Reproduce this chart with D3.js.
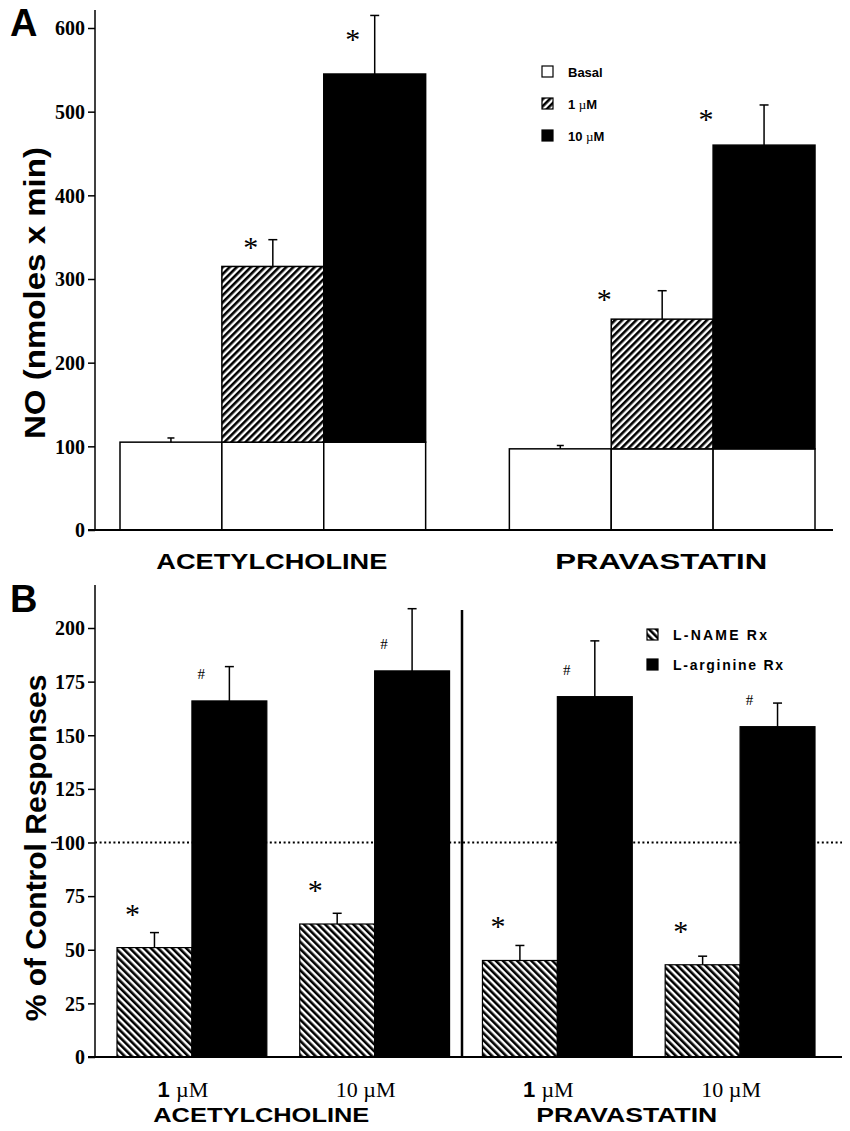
<!DOCTYPE html>
<html>
<head>
<meta charset="utf-8">
<title>NO release and control responses</title>
<script src="https://d3js.org/d3.v7.min.js"></script>
<style>
  body { margin: 0; background: #fff; }
  svg { display: block; }
  .sans { font-family: "Liberation Sans", Arial, sans-serif; font-weight: bold; }
  .serif { font-family: "Liberation Serif", "Times New Roman", serif; }
</style>
</head>
<body>
<svg id="chart" width="850" height="1131"></svg>
<script>
// ---- panel A data: NO (nmoles x min)
const drugs = ["ACETYLCHOLINE", "PRAVASTATIN"];
const doses = ["Basal", "1 µM", "10 µM"];
const achNO = [105, 315, 545];
const achNOTop = [110, 347, 615];     // mean + SEM
const pravNO = [97, 252, 460];
const pravNOTop = [101, 286, 508];
const ticksA = [0, 100, 200, 300, 400, 500, 600];

// ---- panel B data: % of control responses
const groupsB = ["ach1", "ach10", "prav1", "prav10"];
const doseLabelsB = ["1", "10", "1", "10"];
const treatments = ["L-NAME Rx", "L-arginine Rx"];
const lname = [51, 62, 45, 43];
const lnameTop = [58, 67, 52, 47];
const larg = [166, 180, 168, 154];
const largTop = [182, 209, 194, 165];
const ticksB = [0, 25, 50, 75, 100, 125, 150, 175, 200];

// asterisk offset from bar centre, per drug (panel A)
const starDxA = [-22, -58];

const svg = d3.select("#chart");
const defs = svg.append("defs");
const ink = "#000";

// hatch patterns
function hatch(id, angle) {
  const p = defs.append("pattern")
    .attr("id", id)
    .attr("patternUnits", "userSpaceOnUse")
    .attr("width", 5).attr("height", 5)
    .attr("patternTransform", "rotate(" + angle + ")");
  p.append("rect").attr("width", 5).attr("height", 5).attr("fill", "#fff");
  p.append("rect").attr("width", 2.6).attr("height", 5).attr("fill", "#000");
}
hatch("hatchA", 45);
hatch("hatchB", -45);

function styleAxis(ax) {
  ax.select(".domain").remove();
  ax.selectAll(".tick line").attr("stroke-width", 1.5);
  ax.selectAll(".tick text")
    .attr("font-family", "'Liberation Serif', 'Times New Roman', serif")
    .attr("font-weight", "bold")
    .attr("font-size", 20)
    .attr("dy", "0.34em");
}

// ======================= PANEL A =======================
const yA = d3.scaleLinear().domain([0, 600]).range([530, 28]);
const xA = d3.scaleBand().domain(drugs).range([120, 815]).paddingInner(0.215).paddingOuter(0);
const xDose = d3.scaleBand().domain(doses).range([0, xA.bandwidth()]);

const gA = svg.append("g");

const rowsA = drugs.map((d, i) => ({
  drug: d,
  vals: i === 0 ? achNO : pravNO,
  tops: i === 0 ? achNOTop : pravNOTop,
  starDx: starDxA[i]
}));

rowsA.forEach(r => {
  const basal = r.vals[0];
  doses.forEach((dose, j) => {
    const x0 = xA(r.drug) + xDose(dose);
    const w = xDose.bandwidth();
    // white basal part
    gA.append("rect")
      .attr("x", x0).attr("y", yA(basal))
      .attr("width", w).attr("height", yA(0) - yA(basal))
      .attr("fill", "#fff").attr("stroke", ink).attr("stroke-width", 1.5);
    if (j > 0) {
      gA.append("rect")
        .attr("x", x0).attr("y", yA(r.vals[j]))
        .attr("width", w).attr("height", yA(basal) - yA(r.vals[j]))
        .attr("fill", j === 1 ? "url(#hatchA)" : ink)
        .attr("stroke", ink).attr("stroke-width", 1.5);
    }
    // error bar
    const cx = x0 + w / 2;
    const cap = j === 0 ? 3.5 : 4.5;
    gA.append("line").attr("x1", cx).attr("x2", cx)
      .attr("y1", yA(r.vals[j])).attr("y2", yA(r.tops[j]))
      .attr("stroke", ink).attr("stroke-width", 1.5);
    gA.append("line").attr("x1", cx - cap).attr("x2", cx + cap)
      .attr("y1", yA(r.tops[j])).attr("y2", yA(r.tops[j]))
      .attr("stroke", ink).attr("stroke-width", 1.5);
    if (j > 0) {
      const mid = (yA(r.vals[j]) + yA(r.tops[j])) / 2;
      gA.append("text").attr("class", "serif")
        .attr("x", cx + r.starDx).attr("y", mid + 4)
        .attr("text-anchor", "middle").attr("font-size", 30)
        .text("*");
    }
  });
});

// axes A
const axA = svg.append("g").attr("transform", "translate(95,0)")
  .call(d3.axisLeft(yA).tickValues(ticksA).tickSize(7).tickPadding(3).tickFormat(d3.format("d")));
styleAxis(axA);
svg.append("line").attr("x1", 95).attr("x2", 95).attr("y1", yA(0)).attr("y2", 10)
  .attr("stroke", ink).attr("stroke-width", 1.5);
svg.append("line").attr("x1", 88).attr("x2", 833).attr("y1", yA(0)).attr("y2", yA(0))
  .attr("stroke", ink).attr("stroke-width", 2);

// category labels A
const labelLenA = { "ACETYLCHOLINE": 231, "PRAVASTATIN": 212 };
drugs.forEach(d => {
  svg.append("text").attr("class", "sans")
    .attr("x", xA(d) + xA.bandwidth() / 2 - 1).attr("y", 569)
    .attr("text-anchor", "middle").attr("font-size", 22)
    .attr("textLength", labelLenA[d]).attr("lengthAdjust", "spacingAndGlyphs")
    .text(d);
});

// y title A
svg.append("text").attr("class", "sans")
  .attr("transform", "translate(45,293) rotate(-90)")
  .attr("text-anchor", "middle").attr("font-size", 29)
  .attr("textLength", 292).attr("lengthAdjust", "spacingAndGlyphs")
  .text("NO (nmoles x min)");

svg.append("text").attr("class", "sans").attr("x", 10).attr("y", 36)
  .attr("font-size", 38).text("A");

// legend A
const legA = svg.append("g").attr("transform", "translate(542,66)");
const legFillA = ["#fff", "url(#hatchA)", ink];
doses.forEach((d, i) => {
  const g = legA.append("g").attr("transform", "translate(0," + i * 32 + ")");
  g.append("rect").attr("width", 11).attr("height", 11)
    .attr("fill", legFillA[i]).attr("stroke", ink).attr("stroke-width", 1.2);
  const t = g.append("text").attr("class", "sans").attr("x", 26).attr("y", 11)
    .attr("font-size", 13);
  if (i === 0) t.text(d);
  else {
    t.append("tspan").text(d.split(" ")[0] + "  ");
    t.append("tspan").attr("font-weight", "normal").attr("class", "serif").text("µ");
    t.append("tspan").text("M");
  }
});

// ======================= PANEL B =======================
const yB = d3.scaleLinear().domain([0, 200]).range([1057, 628]);
const xB = d3.scaleBand().domain(groupsB).range([117, 815]).paddingInner(0.18).paddingOuter(0);
const xT = d3.scaleBand().domain(treatments).range([0, xB.bandwidth()]);

const gB = svg.append("g");

// dotted reference line at 100
gB.append("line").attr("x1", 95).attr("x2", 842).attr("y1", yB(100)).attr("y2", yB(100))
  .attr("stroke", ink).attr("stroke-width", 2).attr("stroke-dasharray", "2,2.6");
gB.append("line").attr("x1", 51).attr("x2", 58).attr("y1", yB(100)).attr("y2", yB(100))
  .attr("stroke", ink).attr("stroke-width", 1.5);

groupsB.forEach((grp, i) => {
  const series = [
    { t: treatments[0], v: lname[i], top: lnameTop[i], fill: "url(#hatchB)", mark: "*" },
    { t: treatments[1], v: larg[i], top: largTop[i], fill: ink, mark: "#" }
  ];
  series.forEach(s => {
    const x0 = xB(grp) + xT(s.t);
    const w = xT.bandwidth();
    const cx = x0 + w / 2;
    gB.append("rect").attr("x", x0).attr("y", yB(s.v))
      .attr("width", w).attr("height", yB(0) - yB(s.v))
      .attr("fill", s.fill).attr("stroke", ink).attr("stroke-width", 1.2);
    gB.append("line").attr("x1", cx).attr("x2", cx)
      .attr("y1", yB(s.v)).attr("y2", yB(s.top))
      .attr("stroke", ink).attr("stroke-width", 1.5);
    gB.append("line").attr("x1", cx - 4.5).attr("x2", cx + 4.5)
      .attr("y1", yB(s.top)).attr("y2", yB(s.top))
      .attr("stroke", ink).attr("stroke-width", 1.5);
    if (s.mark === "*") {
      gB.append("text").attr("class", "serif")
        .attr("x", cx - 22).attr("y", yB(s.v) - 24)
        .attr("text-anchor", "middle").attr("font-size", 30).text("*");
    } else {
      gB.append("text").attr("class", "serif")
        .attr("x", cx - 28).attr("y", yB(s.v) - 22)
        .attr("text-anchor", "middle").attr("font-size", 15).text("#");
    }
  });
  // dose label
  const t = svg.append("text").attr("x", xB(grp) + xB.bandwidth() / 2 - 9).attr("y", 1097)
    .attr("text-anchor", "middle").attr("font-size", 22);
  if (doseLabelsB[i] === "1") {
    t.append("tspan").attr("class", "sans").text("1 ");
  } else {
    t.append("tspan").attr("class", "serif").text("10 ");
  }
  t.append("tspan").attr("class", "serif").text("µM");
});

// divider between drugs
svg.append("line").attr("x1", 462).attr("x2", 462).attr("y1", 610).attr("y2", yB(0))
  .attr("stroke", ink).attr("stroke-width", 2.5);

// axes B
const axB = svg.append("g").attr("transform", "translate(95,0)")
  .call(d3.axisLeft(yB).tickValues(ticksB).tickSize(7).tickPadding(3).tickFormat(d3.format("d")));
styleAxis(axB);
svg.append("line").attr("x1", 95).attr("x2", 95).attr("y1", yB(0)).attr("y2", 585)
  .attr("stroke", ink).attr("stroke-width", 1.5);
svg.append("line").attr("x1", 88).attr("x2", 842).attr("y1", yB(0)).attr("y2", yB(0))
  .attr("stroke", ink).attr("stroke-width", 2);

// group labels B
const labelLenB = { "ACETYLCHOLINE": 216, "PRAVASTATIN": 181 };
const drugSpan = [["ach1", "ach10"], ["prav1", "prav10"]];
drugs.forEach((d, i) => {
  const a = xB(drugSpan[i][0]), b = xB(drugSpan[i][1]) + xB.bandwidth();
  svg.append("text").attr("class", "sans")
    .attr("x", (a + b) / 2 - 22).attr("y", 1122)
    .attr("text-anchor", "middle").attr("font-size", 21)
    .attr("textLength", labelLenB[d]).attr("lengthAdjust", "spacingAndGlyphs")
    .text(d);
});

// y title B
svg.append("text").attr("class", "sans")
  .attr("transform", "translate(46,848) rotate(-90)")
  .attr("text-anchor", "middle").attr("font-size", 30)
  .text("% of Control Responses");

svg.append("text").attr("class", "sans").attr("x", 10).attr("y", 612)
  .attr("font-size", 38).text("B");

// legend B
const legB = svg.append("g").attr("transform", "translate(647,629)");
const legFillB = ["url(#hatchB)", ink];
treatments.forEach((d, i) => {
  const g = legB.append("g").attr("transform", "translate(0," + i * 30 + ")");
  g.append("rect").attr("width", 11).attr("height", 11)
    .attr("fill", legFillB[i]).attr("stroke", ink).attr("stroke-width", 1.2);
  g.append("text").attr("class", "sans").attr("x", 26).attr("y", 11)
    .attr("font-size", 14).attr("textLength", d === "L-NAME Rx" ? 94 : 110)
    .attr("lengthAdjust", "spacing")
    .text(d);
});
</script>
</body>
</html>
